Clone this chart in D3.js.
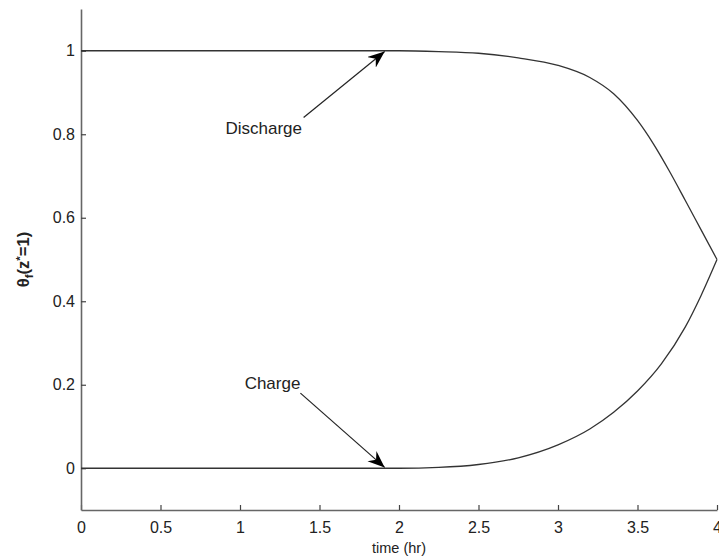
<!DOCTYPE html>
<html>
<head>
<meta charset="utf-8">
<script src="https://cdn.jsdelivr.net/npm/d3@7"></script>
<style>
  html, body { margin: 0; padding: 0; background: #fff; }
  svg { display: block; font-family: "Liberation Sans", Arial, Helvetica, sans-serif; }
</style>
</head>
<body>
<svg id="chart" width="719" height="559"></svg>
<script>
// Tick values
const timeTicks = [0, 0.5, 1, 1.5, 2, 2.5, 3, 3.5, 4];
const thetaTicks = [0, 0.2, 0.4, 0.6, 0.8, 1];

// Discharge: outlet temperature starts at 1 and falls toward 0.5 at t = 4 h
const dischargeTime  = [0, 1, 2.0, 2.25, 2.5, 2.75, 3.0, 3.2, 3.35, 3.5, 3.6, 3.7, 3.8, 3.9, 4.0];
const dischargeTheta = [1, 1, 1.0, 0.998, 0.994, 0.983, 0.965, 0.936, 0.897, 0.833, 0.777, 0.712, 0.642, 0.571, 0.5];

// Charge: outlet temperature starts at 0 and rises toward 0.5 at t = 4 h
const chargeTime  = [0, 1, 2.0, 2.25, 2.5, 2.75, 3.0, 3.2, 3.35, 3.5, 3.65, 3.8, 3.9, 4.0];
const chargeTheta = [0, 0, 0.0, 0.002, 0.009, 0.025, 0.056, 0.094, 0.134, 0.185, 0.25, 0.338, 0.414, 0.5];

// Annotation labels: text anchor (right end of label), arrow tail and tip, in data units
const noteLabels = ["Discharge", "Charge"];
const noteText   = [[1.39, 0.80], [1.38, 0.19]];
const noteTail   = [[1.40, 0.84], [1.38, 0.18]];
const noteTip    = [[1.91, 0.998], [1.91, 0.002]];

const svg = d3.select("#chart");
const margin = { left: 81, right: 2, top: 9, bottom: 49 };
const W = 719, H = 559;

const x = d3.scaleLinear().domain([0, 4]).range([margin.left, W - margin.right]);
const y = d3.scaleLinear().domain([-0.1, 1.1]).range([H - margin.bottom, margin.top]);

const axisColor = "#666";
const textColor = "#222";

// Axes with inward ticks
const xAxis = d3.axisBottom(x)
  .tickValues(timeTicks)
  .tickFormat(d3.format("~g"))
  .tickSizeInner(-5).tickSizeOuter(0).tickPadding(12);
const yAxis = d3.axisLeft(y)
  .tickValues(thetaTicks)
  .tickFormat(d3.format("~g"))
  .tickSizeInner(-5).tickSizeOuter(0).tickPadding(6);

const gx = svg.append("g").attr("transform", `translate(0,${y(-0.1)})`).call(xAxis);
const gy = svg.append("g").attr("transform", `translate(${x(0)},0)`).call(yAxis);

[gx, gy].forEach(g => {
  g.select(".domain").attr("stroke", axisColor).attr("stroke-width", 1.6);
  g.selectAll(".tick line").attr("stroke", "#444").attr("stroke-width", 1.2);
  g.selectAll(".tick text").attr("fill", textColor).attr("font-size", 16);
});

// Axis titles
svg.append("text")
  .attr("x", x(2)).attr("y", 553)
  .attr("text-anchor", "middle")
  .attr("font-size", 14.5)
  .attr("fill", textColor)
  .text("time (hr)");

const yl = svg.append("text")
  .attr("transform", `translate(29,${y(0.5)}) rotate(-90)`)
  .attr("text-anchor", "middle")
  .attr("font-size", 16.5)
  .attr("font-weight", "bold")
  .attr("fill", textColor);
yl.append("tspan").text("θ");
yl.append("tspan").attr("font-size", 11.5).attr("dy", 4).text("f");
yl.append("tspan").attr("dy", -4).text("(z");
yl.append("tspan").attr("font-size", 11.5).attr("dy", -5).text("*");
yl.append("tspan").attr("dy", 5).text("=1)");

// Curves
const line = d3.line().x(d => x(d[0])).y(d => y(d[1])).curve(d3.curveMonotoneX);
const curves = [
  d3.zip(dischargeTime, dischargeTheta),
  d3.zip(chargeTime, chargeTheta)
];
svg.append("g").selectAll("path")
  .data(curves)
  .join("path")
  .attr("d", line)
  .attr("fill", "none")
  .attr("stroke", "#333")
  .attr("stroke-width", 1.3);

// Arrowhead marker (barbed)
svg.append("defs").append("marker")
  .attr("id", "head")
  .attr("viewBox", "-17 -7 18 14")
  .attr("refX", 0).attr("refY", 0)
  .attr("markerWidth", 18).attr("markerHeight", 14)
  .attr("markerUnits", "userSpaceOnUse")
  .attr("orient", "auto")
  .append("path")
  .attr("d", "M0,0 L-17,-6.8 L-11.5,0 L-17,6.8 Z")
  .attr("fill", "#000");

// Annotations
noteLabels.forEach((label, i) => {
  svg.append("text")
    .attr("x", x(noteText[i][0])).attr("y", y(noteText[i][1]))
    .attr("text-anchor", "end")
    .attr("font-size", 17)
    .attr("fill", textColor)
    .text(label);
  svg.append("line")
    .attr("x1", x(noteTail[i][0])).attr("y1", y(noteTail[i][1]))
    .attr("x2", x(noteTip[i][0])).attr("y2", y(noteTip[i][1]))
    .attr("stroke", "#222")
    .attr("stroke-width", 1.2)
    .attr("marker-end", "url(#head)");
});
</script>
</body>
</html>
